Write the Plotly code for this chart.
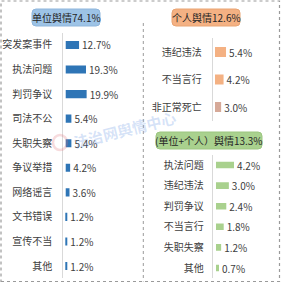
import plotly.graph_objects as go

W = H = 283
FONT = "Noto Sans CJK SC"
TXT = "#404040"

# ---- data ----
unit_title = "单位舆情74.1%"
unit_cats = ["突发案事件", "执法问题", "判罚争议", "司法不公", "失职失察",
             "争议举措", "网络谣言", "文书错误", "宣传不当", "其他"]
unit_vals = [12.7, 19.3, 19.9, 5.4, 5.4, 4.2, 3.6, 1.2, 1.2, 1.2]

person_title = "个人舆情12.6%"
person_cats = ["违纪违法", "不当言行", "非正常死亡"]
person_vals = [5.4, 4.2, 3.0]

both_title = "(单位+个人）舆情13.3%"
both_cats = ["执法问题", "违纪违法", "判罚争议", "不当言行", "失职失察", "其他"]
both_vals = [4.2, 3.0, 2.4, 1.8, 1.2, 0.7]


def px(x):
    return x / W


def py(y):
    return 1 - y / H


fig = go.Figure()

common = dict(orientation="h", texttemplate="%{x:.1f}%", textposition="outside",
              textfont=dict(size=10, color=TXT, family=FONT), constraintext="none",
              cliponaxis=False)

fig.add_trace(go.Bar(x=unit_vals, y=unit_cats, width=0.33,
                     marker=dict(color="#2e75b6", line=dict(width=0)),
                     xaxis="x", yaxis="y", **common))
fig.add_trace(go.Bar(x=person_vals, y=person_cats, width=0.36,
                     marker=dict(color=["#f4b183", "#f4b183", "#d6a998"], line=dict(width=0)),
                     xaxis="x2", yaxis="y2", **common))
fig.add_trace(go.Bar(x=both_vals, y=both_cats, width=0.32,
                     marker=dict(color="#a9d18e", line=dict(width=0)),
                     xaxis="x3", yaxis="y3", **common))


def xax(dom, rng, anchor):
    return dict(domain=dom, range=rng, visible=False, fixedrange=True, anchor=anchor)


def yax(dom, anchor, standoff):
    return dict(domain=dom, anchor=anchor, autorange="reversed", showline=True,
                linecolor="#d9d9d9", linewidth=1, showgrid=False, ticks="",
                ticklabelstandoff=standoff,
                tickfont=dict(size=10, color=TXT, family=FONT), zeroline=False)


layout = dict(
    width=W, height=H, margin=dict(l=0, r=0, t=0, b=0),
    paper_bgcolor="white", plot_bgcolor="rgba(0,0,0,0)",
    showlegend=False,
    font=dict(family=FONT, color=TXT),
    xaxis=xax([px(63.3), px(140)], [-2.3, 70.7], "y"),
    yaxis=yax([1 - 278.3 / H, 1 - 32.7 / H], "x", 8),
    xaxis2=xax([px(212.7), px(276)], [-1.13, 29.9], "y2"),
    yaxis2=yax([1 - 120.75 / H, 1 - 38.25 / H], "x2", 8),
    xaxis3=xax([px(212.7), px(276)], [-0.77, 14.0], "y3"),
    yaxis3=yax([1 - 278.3 / H, 1 - 154.7 / H], "x3", 6),
)
fig.update_layout(**layout)


def rrect(x0, y0, x1, y1, r, fill, line):
    X0, X1 = px(x0), px(x1)
    Y0, Y1 = py(y0), py(y1)
    rx, ry = r / W, r / H
    path = (f"M {X0+rx},{Y0} L {X1-rx},{Y0} Q {X1},{Y0} {X1},{Y0-ry} "
            f"L {X1},{Y1+ry} Q {X1},{Y1} {X1-rx},{Y1} L {X0+rx},{Y1} "
            f"Q {X0},{Y1} {X0},{Y1+ry} L {X0},{Y0-ry} Q {X0},{Y0} {X0+rx},{Y0} Z")
    return dict(type="path", path=path, xref="paper", yref="paper",
                fillcolor=fill, line=dict(color=line, width=1), layer="below")


shapes = [
    rrect(32, 9, 100, 26, 4, "#9dc3e6", "#8fb6dc"),
    rrect(172, 9, 240, 26, 4, "#f4b183", "#e9a473"),
    rrect(156, 132, 262, 149, 4, "#a9d18e", "#9cc680"),
    dict(type="rect", xref="paper", yref="paper", x0=px(1), x1=px(279.5), y0=py(281.5), y1=py(1),
         line=dict(color="#9a9a9a", width=1.2, dash="dot")),
    dict(type="line", xref="paper", yref="paper", x0=px(143.3), x1=px(143.3), y0=py(23), y1=py(281.5),
         line=dict(color="#9a9a9a", width=1, dash="dot")),
    dict(type="circle", xref="paper", yref="paper", x0=px(53), x1=px(67), y0=py(150), y1=py(135),
         line=dict(color="rgba(225,110,120,0.25)", width=2.5), layer="above"),
]
fig.update_layout(shapes=shapes)

ann = [
    dict(text=unit_title, x=px(66), y=py(17.5)),
    dict(text=person_title, x=px(206), y=py(17.5)),
    dict(text=both_title, x=px(209), y=py(140.5)),
]
annotations = [dict(xref="paper", yref="paper", showarrow=False, xanchor="center", yanchor="middle",
                    font=dict(size=10, color="#262626", family=FONT), **a) for a in ann]
annotations.append(dict(xref="paper", yref="paper", showarrow=False, x=px(125), y=py(129),
                        xanchor="center", yanchor="middle", text="<b>法治网舆情中心</b>", textangle=-14,
                        font=dict(size=15, color="rgba(110,155,230,0.28)", family=FONT)))
fig.update_layout(annotations=annotations)

fig.write_html("out.html")
